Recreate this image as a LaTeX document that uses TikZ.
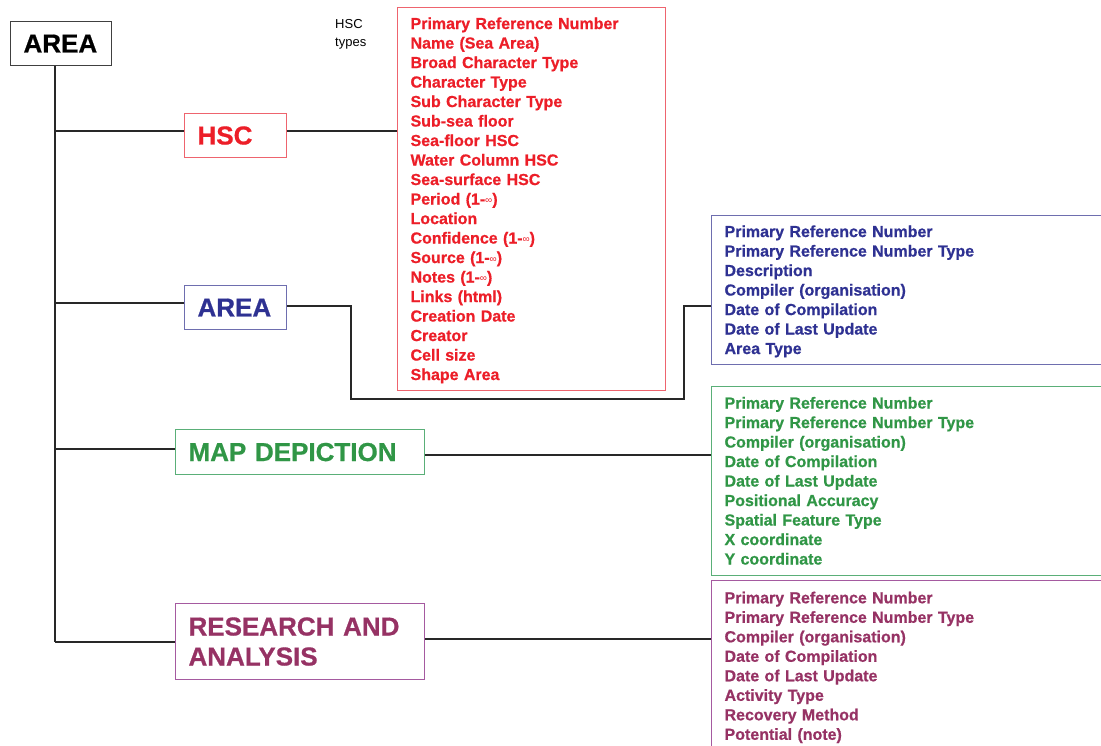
\documentclass[tikz,border=0pt]{standalone}
\usepackage{fontspec}
\setmainfont{Liberation Sans}[BoldFeatures={FakeBold=0.7}]
\definecolor{hscred}{RGB}{236,30,40}
\definecolor{hscedge}{RGB}{238,100,110}
\definecolor{areablue}{RGB}{46,49,146}
\definecolor{areaedge}{RGB}{110,110,175}
\definecolor{mapgreen}{RGB}{48,150,70}
\definecolor{mapedge}{RGB}{90,175,120}
\definecolor{respurple}{RGB}{150,50,100}
\definecolor{resedge}{RGB}{165,90,160}
\definecolor{linegray}{RGB}{40,40,40}
\newcommand\infsym{{\fontsize{10}{10}\selectfont\mdseries\raisebox{1pt}{∞}}}
% fixed height of the first line and depth of the last line of each list
\newcommand\topstrut{\rule{0pt}{15pt}}
\newcommand\botstrut{\rule[-4pt]{0pt}{4pt}}
\begin{document}
\begin{tikzpicture}[x=1pt,y=-1pt,
  head/.style={draw, line width=1.1pt, anchor=north west, inner xsep=13pt, inner ysep=0pt,
    align=left, font=\fontsize{26}{30}\selectfont\bfseries},
  attrlist/.style={draw, line width=1.1pt, anchor=north west, inner xsep=13pt, inner ysep=0pt,
    align=left, font=\fontsize{16}{19.5}\selectfont\bfseries},
  conn/.style={draw=linegray, line width=1.2pt}]
\useasboundingbox (0,0) rectangle (1101,746);

% entity boxes
\node[head, draw=black!75, text=black, minimum width=101pt, minimum height=44pt, text width=75pt]
  (top) at (10,21) {AREA};
\node[head, draw=hscedge, text=hscred, minimum width=102pt, minimum height=44pt, text width=76pt]
  (hsc) at (184,113) {HSC};
\node[head, draw=areaedge, text=areablue, minimum width=102pt, minimum height=44pt, text width=76pt]
  (area) at (184,285) {AREA};
\node[head, draw=mapedge, text=mapgreen, minimum width=249pt, minimum height=45pt, text width=223pt]
  (map) at (175,429) {MAP DEPICTION};
\node[head, draw=resedge, text=respurple, minimum width=249pt, minimum height=76pt, text width=223pt]
  (res) at (175,603) {RESEARCH AND\\ANALYSIS};

% side label
\node[anchor=north west, inner sep=0pt, align=left, font=\fontsize{13}{18}\selectfont]
  (hsctypes) at (335,19) {HSC\\types};

% attribute lists
\node[attrlist, draw=hscedge, text=hscred, minimum width=268pt, minimum height=383pt, text width=242pt]
  (hsclist) at (397,7) {\topstrut Primary Reference Number\\Name (Sea Area)\\Broad Character Type\\
  Character Type\\Sub Character Type\\Sub-sea floor\\Sea-floor HSC\\Water Column HSC\\
  Sea-surface HSC\\Period (1-\infsym)\\Location\\Confidence (1-\infsym)\\Source (1-\infsym)\\
  Notes (1-\infsym)\\Links (html)\\Creation Date\\Creator\\Cell size\\Shape Area\botstrut};
\node[attrlist, draw=areaedge, text=areablue, minimum width=420pt, minimum height=149pt, text width=394pt]
  (arealist) at (711,215) {\topstrut Primary Reference Number\\Primary Reference Number Type\\Description\\
  Compiler (organisation)\\Date of Compilation\\Date of Last Update\\Area Type\botstrut};
\node[attrlist, draw=mapedge, text=mapgreen, minimum width=420pt, minimum height=189pt, text width=394pt]
  (maplist) at (711,386) {\topstrut Primary Reference Number\\Primary Reference Number Type\\
  Compiler (organisation)\\Date of Compilation\\Date of Last Update\\Positional Accuracy\\
  Spatial Feature Type\\X coordinate\\Y coordinate\botstrut};
\node[attrlist, draw=resedge, text=respurple, minimum width=420pt, minimum height=171pt, text width=394pt]
  (reslist) at (711,580) {\topstrut Primary Reference Number\\Primary Reference Number Type\\
  Compiler (organisation)\\Date of Compilation\\Date of Last Update\\Activity Type\\
  Recovery Method\\Potential (note)\botstrut};

% trunk and branches
\coordinate (b1) at (55,131);
\coordinate (b2) at (55,303);
\coordinate (b3) at (55,449);
\coordinate (b4) at (55,642);
\draw[conn] (b4 |- top.south) -- (b4);
\draw[conn] (b1) -- (b1 -| hsc.west);
\draw[conn] (b2) -- (b2 -| area.west);
\draw[conn] (b3) -- (b3 -| map.west);
\draw[conn] (b4) -- (b4 -| res.west);

% links to attribute lists
\draw[conn] (b1 -| hsc.east) -- (b1 -| hsclist.west);
\coordinate (ar) at (0,306);
\coordinate (dip) at (351,399);
\coordinate (rise) at (684,306);
\draw[conn] (ar -| area.east) -| (dip) -| (rise) -- (rise -| arealist.west);
\coordinate (mr) at (0,455);
\draw[conn] (mr -| map.east) -- (mr -| maplist.west);
\coordinate (rr) at (0,639);
\draw[conn] (rr -| res.east) -- (rr -| reslist.west);
\end{tikzpicture}
\end{document}
